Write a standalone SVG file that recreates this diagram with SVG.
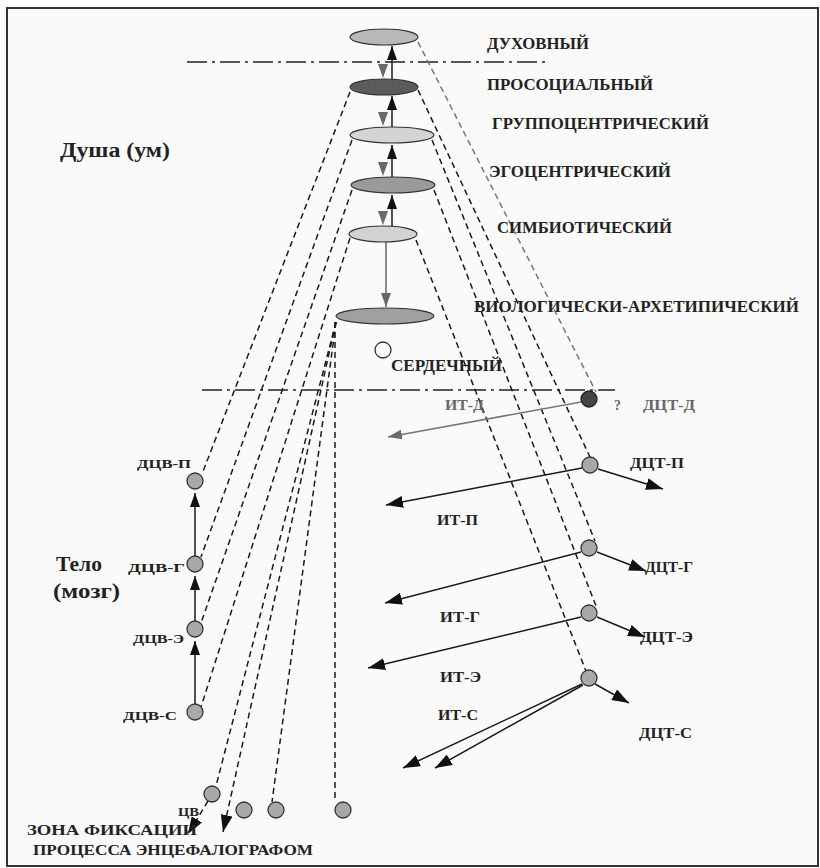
<svg xmlns="http://www.w3.org/2000/svg" width="820" height="868" viewBox="0 0 820 868">
<style>
text{font-family:"Liberation Serif","Times New Roman",serif;font-weight:bold;fill:#222}
.lab{font-size:16px}
.sm{font-size:13px}
.md{font-size:14px}
.big{font-size:20px}
.gt{fill:#666}
.ell{stroke:#333;stroke-width:1.2}
.cir{fill:#a8a8a8;stroke:#333;stroke-width:1.3}
.dd{fill:none;stroke:#222;stroke-width:1.6;stroke-dasharray:20 5 3 5}
.dash{fill:none;stroke:#1a1a1a;stroke-width:1.5;stroke-dasharray:6 4}
.dashg{fill:none;stroke:#777;stroke-width:1.5;stroke-dasharray:6 4}
.ln{fill:none;stroke:#1a1a1a;stroke-width:1.5}
.lng{fill:none;stroke:#777;stroke-width:1.5}
</style>
<defs>
<marker id="ab" markerUnits="userSpaceOnUse" viewBox="0 0 14 10" refX="14" refY="5" markerWidth="14" markerHeight="10" orient="auto"><path d="M0,0 L14,5 L0,10 z" fill="#111"/></marker>
<marker id="ag" markerUnits="userSpaceOnUse" viewBox="0 0 14 10" refX="14" refY="5" markerWidth="14" markerHeight="10" orient="auto"><path d="M0,0 L14,5 L0,10 z" fill="#6a6a6a"/></marker>
<marker id="abL" markerUnits="userSpaceOnUse" viewBox="0 0 17 12" refX="17" refY="6" markerWidth="17" markerHeight="12" orient="auto"><path d="M0,0 L17,6 L0,12 z" fill="#111"/></marker>
</defs>
<rect x="0" y="0" width="820" height="868" fill="#fff"/>
<rect x="7" y="8" width="811" height="858" fill="#fafafa" stroke="#333" stroke-width="2"/>

<g id="guides">
<line class="dd" x1="187" y1="62" x2="550" y2="62"/>
<line class="dd" x1="202" y1="390" x2="615" y2="390"/>
</g>

<g id="connectors">
<line class="dash" x1="350" y1="92" x2="202" y2="474"/>
<line class="dash" x1="352" y1="140" x2="201" y2="557"/>
<line class="dash" x1="352" y1="190" x2="201" y2="623"/>
<line class="dash" x1="350" y1="238" x2="201" y2="707"/>
<line class="dash" x1="336" y1="322" x2="216" y2="786"/>
<line class="dash" x1="336" y1="322" x2="223" y2="832" marker-end="url(#abL)"/>
<line class="dash" x1="336" y1="322" x2="272" y2="802"/>
<line class="dash" x1="335" y1="322" x2="335" y2="802"/>
<line class="dash" x1="208" y1="801" x2="188" y2="834" marker-end="url(#abL)"/>
<line class="dashg" x1="418" y1="42" x2="596" y2="392"/>
<line class="dash" x1="418" y1="90" x2="590" y2="457"/>
<line class="dash" x1="432" y1="140" x2="595" y2="541"/>
<line class="dash" x1="434" y1="190" x2="596" y2="606"/>
<line class="dash" x1="416" y1="240" x2="586" y2="671"/>
<line class="ln" x1="392" y1="79" x2="392" y2="46" marker-end="url(#ab)"/>
<line stroke="none" x1="383" y1="46" x2="383" y2="78" marker-end="url(#ag)"/>
<line class="ln" x1="392" y1="127" x2="392" y2="96" marker-end="url(#ab)"/>
<line stroke="none" x1="383" y1="96" x2="383" y2="126" marker-end="url(#ag)"/>
<line class="ln" x1="392" y1="177" x2="392" y2="145" marker-end="url(#ab)"/>
<line stroke="none" x1="383" y1="145" x2="383" y2="176" marker-end="url(#ag)"/>
<line class="ln" x1="392" y1="226" x2="392" y2="195" marker-end="url(#ab)"/>
<line stroke="none" x1="383" y1="195" x2="383" y2="225" marker-end="url(#ag)"/>
<line stroke="#666" stroke-width="1.5" x1="386" y1="242" x2="386" y2="307" marker-end="url(#ag)"/>
<line class="ln" x1="195" y1="704" x2="195" y2="641" marker-end="url(#ab)"/>
<line class="ln" x1="195" y1="621" x2="195" y2="576" marker-end="url(#ab)"/>
<line class="ln" x1="195" y1="556" x2="195" y2="493" marker-end="url(#ab)"/>
<line class="lng" x1="581" y1="402" x2="388" y2="437" marker-end="url(#ag)"/>
<line class="ln" x1="582" y1="468" x2="386" y2="505" marker-end="url(#abL)"/>
<line class="ln" x1="598" y1="469" x2="663" y2="489" marker-end="url(#abL)"/>
<line class="ln" x1="581" y1="552" x2="385" y2="603" marker-end="url(#abL)"/>
<line class="ln" x1="597" y1="552" x2="646" y2="571" marker-end="url(#abL)"/>
<line class="ln" x1="581" y1="617" x2="368" y2="668" marker-end="url(#abL)"/>
<line class="ln" x1="597" y1="617" x2="645" y2="637" marker-end="url(#abL)"/>
<line class="ln" x1="582" y1="684" x2="403" y2="768" marker-end="url(#abL)"/>
<line class="ln" x1="583" y1="685" x2="435" y2="768" marker-end="url(#abL)"/>
<line class="ln" x1="595" y1="684" x2="629" y2="703" marker-end="url(#abL)"/>
</g>

<g id="n-duh"><ellipse class="ell" cx="384" cy="37" rx="34" ry="8" fill="#b8b8b8"/><text class="lab" x="487" y="49" textLength="102" lengthAdjust="spacingAndGlyphs">ДУХОВНЫЙ</text></g>
<g id="n-pros"><ellipse class="ell" cx="384" cy="87" rx="34" ry="8" fill="#5c5c5c"/><text class="lab" x="487" y="90" textLength="166" lengthAdjust="spacingAndGlyphs">ПРОСОЦИАЛЬНЫЙ</text></g>
<g id="n-grup"><ellipse class="ell" cx="392" cy="135" rx="42" ry="8" fill="#d4d4d4"/><text class="lab" x="492" y="129" textLength="217" lengthAdjust="spacingAndGlyphs">ГРУППОЦЕНТРИЧЕСКИЙ</text></g>
<g id="n-ego"><ellipse class="ell" cx="393" cy="185" rx="42" ry="8" fill="#9a9a9a"/><text class="lab" x="489" y="177" textLength="182" lengthAdjust="spacingAndGlyphs">ЭГОЦЕНТРИЧЕСКИЙ</text></g>
<g id="n-simb"><ellipse class="ell" cx="383" cy="234" rx="34" ry="8" fill="#d2d2d2"/><text class="lab" x="497" y="233" textLength="175" lengthAdjust="spacingAndGlyphs">СИМБИОТИЧЕСКИЙ</text></g>
<g id="n-bio"><ellipse class="ell" cx="385" cy="316" rx="49" ry="8" fill="#a0a0a0"/><text class="lab" x="474" y="312" textLength="325" lengthAdjust="spacingAndGlyphs">ВИОЛОГИЧЕСКИ-АРХЕТИПИЧЕСКИЙ</text></g>
<g id="n-serd"><circle cx="383" cy="350" r="8" fill="#fff" stroke="#333" stroke-width="1.3"/><text class="lab" x="391" y="371" textLength="111" lengthAdjust="spacingAndGlyphs">СЕРДЕЧНЫЙ</text></g>

<g id="t-dusha"><text class="big" x="60" y="157" textLength="110" lengthAdjust="spacingAndGlyphs">Душа (ум)</text></g>
<g id="t-telo"><text class="big" x="56" y="571" textLength="46" lengthAdjust="spacingAndGlyphs">Тело</text><text class="big" x="53" y="598" textLength="67" lengthAdjust="spacingAndGlyphs">(мозг)</text></g>

<g id="n-dcv-p"><circle class="cir" cx="195" cy="481" r="8"/><text class="sm" x="137" y="468" textLength="54" lengthAdjust="spacingAndGlyphs">ДЦВ-П</text></g>
<g id="n-dcv-g"><circle class="cir" cx="195" cy="564" r="8"/><text class="sm" x="128" y="572" textLength="57" lengthAdjust="spacingAndGlyphs">ДЦВ-Г</text></g>
<g id="n-dcv-e"><circle class="cir" cx="195" cy="629" r="8"/><text class="sm" x="133" y="643" textLength="51" lengthAdjust="spacingAndGlyphs">ДЦВ-Э</text></g>
<g id="n-dcv-s"><circle class="cir" cx="195" cy="712" r="8"/><text class="sm" x="123" y="720" textLength="54" lengthAdjust="spacingAndGlyphs">ДЦВ-С</text></g>

<g id="n-dct-d"><circle cx="589" cy="399" r="8" fill="#444" stroke="#222" stroke-width="1.3"/><text class="md gt" x="614" y="410">?</text><text class="md gt" x="643" y="410" textLength="52" lengthAdjust="spacingAndGlyphs">ДЦТ-Д</text><text class="md gt" x="445" y="410" textLength="39" lengthAdjust="spacingAndGlyphs">ИТ-Д</text></g>
<g id="n-dct-p"><circle class="cir" cx="590" cy="465" r="8"/><text class="md" x="630" y="468" textLength="54" lengthAdjust="spacingAndGlyphs">ДЦТ-П</text><text class="md" x="437" y="525" textLength="41" lengthAdjust="spacingAndGlyphs">ИТ-П</text></g>
<g id="n-dct-g"><circle class="cir" cx="589" cy="548" r="8"/><text class="md" x="645" y="572" textLength="48" lengthAdjust="spacingAndGlyphs">ДЦТ-Г</text><text class="md" x="440" y="622" textLength="40" lengthAdjust="spacingAndGlyphs">ИТ-Г</text></g>
<g id="n-dct-e"><circle class="cir" cx="589" cy="613" r="8"/><text class="md" x="640" y="642" textLength="53" lengthAdjust="spacingAndGlyphs">ДЦТ-Э</text><text class="md" x="440" y="682" textLength="41" lengthAdjust="spacingAndGlyphs">ИТ-Э</text></g>
<g id="n-dct-s"><circle class="cir" cx="589" cy="678" r="8"/><text class="md" x="639" y="738" textLength="53" lengthAdjust="spacingAndGlyphs">ДЦТ-С</text><text class="md" x="438" y="720" textLength="40" lengthAdjust="spacingAndGlyphs">ИТ-С</text></g>

<g id="n-bottom">
<circle class="cir" cx="212" cy="794" r="8"/>
<circle class="cir" cx="244" cy="810" r="8"/>
<circle class="cir" cx="276" cy="810" r="8"/>
<circle class="cir" cx="343" cy="810" r="8"/>
<text class="sm" x="178" y="816" textLength="21" lengthAdjust="spacingAndGlyphs">ЦВ</text>
<text class="md" x="27" y="835" textLength="170" lengthAdjust="spacingAndGlyphs">ЗОНА  ФИКСАЦИИ</text>
<text class="md" x="33" y="855" textLength="280" lengthAdjust="spacingAndGlyphs">ПРОЦЕССА  ЭНЦЕФАЛОГРАФОМ</text>
</g>
</svg>
